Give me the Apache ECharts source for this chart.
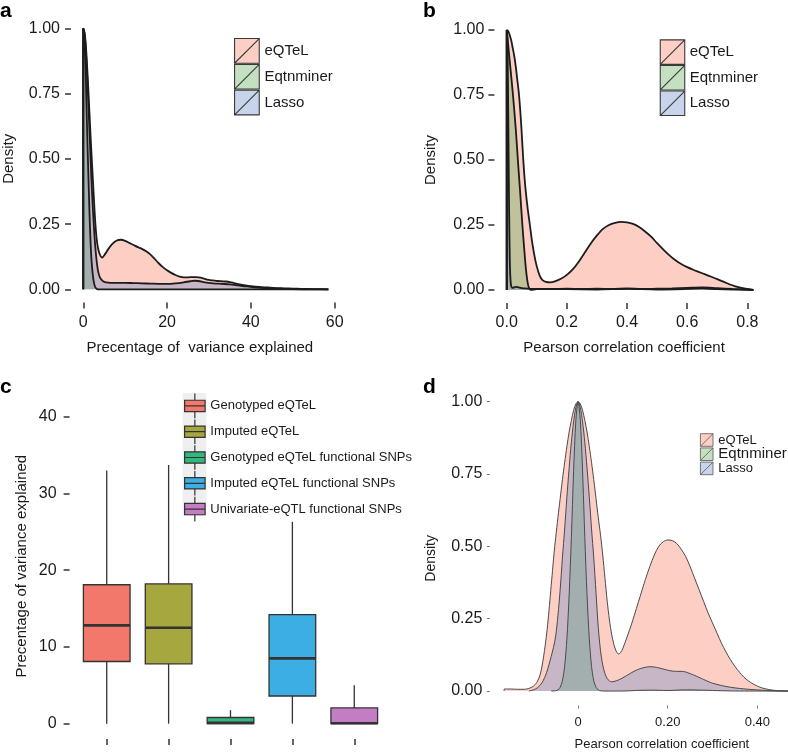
<!DOCTYPE html>
<html><head><meta charset="utf-8">
<script src="https://cdn.jsdelivr.net/npm/echarts@6/dist/echarts.min.js"></script>
<style>html,body{margin:0;padding:0;background:#fff}#chart{width:788px;height:752px}</style>
</head><body><div id="chart"></div>
<script>
// ---------- DATA ----------
const methods = ['eQTeL', 'Eqtnminer', 'Lasso'];
const densityTicks = [0, 0.25, 0.5, 0.75, 1];
const aTicksX = [0, 20, 40, 60];
const bTicksX = [0, 0.2, 0.4, 0.6, 0.8];
const cTicksY = [0, 10, 20, 30, 40];
const dTicksX = [0, 0.2, 0.4];

// Panel a: percentage of variance explained
const aEqtel = [[0,0],[0,1.0],[0.3,0.985],[0.6,0.94],[0.9,0.86],[1.2,0.77],[1.5,0.67],[1.8,0.57],[2.1,0.48],[2.5,0.36],[2.9,0.25],[3.3,0.18],[3.8,0.14],[4.5,0.122],[5.2,0.135],[6,0.155],[7,0.175],[8,0.187],[9,0.19],[10,0.186],[11,0.178],[12,0.17],[13,0.162],[14,0.155],[15,0.146],[16,0.134],[17,0.118],[18,0.1],[19,0.085],[20,0.073],[21,0.063],[22,0.055],[23,0.049],[24,0.046],[25,0.046],[26,0.047],[27,0.047],[28,0.045],[29,0.04],[30,0.036],[31,0.034],[32,0.032],[33,0.031],[34,0.03],[35,0.028],[36,0.024],[37,0.02],[38,0.017],[39,0.014],[40,0.012],[42,0.009],[44,0.007],[46,0.005],[48,0.004],[50,0.003],[52,0.002],[55,0.001],[58.5,0]];
const aEqtn = [[0,0],[0,1.0],[0.25,0.97],[0.5,0.88],[0.75,0.72],[1.0,0.56],[1.2,0.45],[1.4,0.34],[1.6,0.24],[1.8,0.16],[2.0,0.105],[2.2,0.068],[2.4,0.04],[2.6,0.022],[2.8,0.011],[3.0,0.005],[3.3,0.001],[3.6,0],[58.5,0]];
const aLasso = [[0,0],[0,1.0],[0.3,0.98],[0.6,0.92],[0.9,0.83],[1.2,0.72],[1.5,0.6],[1.8,0.48],[2.1,0.37],[2.4,0.28],[2.7,0.2],[3.0,0.14],[3.3,0.095],[3.6,0.065],[4,0.045],[4.5,0.034],[5,0.029],[6,0.026],[7,0.025],[8,0.025],[10,0.025],[12,0.024],[14,0.023],[16,0.022],[18,0.021],[20,0.021],[22,0.023],[24,0.027],[25.5,0.031],[26.5,0.033],[27.5,0.032],[29,0.027],[31,0.023],[33,0.021],[35,0.019],[37,0.015],[39,0.011],[41,0.008],[43,0.005],[46,0.003],[50,0.001],[54,0],[58.5,0]];

// Panel b: Pearson correlation coefficient
const bEqtel = [[0,0],[0,1.0],[0.005,0.995],[0.01,0.98],[0.015,0.96],[0.02,0.93],[0.025,0.9],[0.03,0.86],[0.035,0.81],[0.04,0.76],[0.045,0.69],[0.05,0.6],[0.055,0.5],[0.06,0.42],[0.065,0.36],[0.07,0.31],[0.077,0.25],[0.085,0.18],[0.095,0.115],[0.105,0.07],[0.113,0.047],[0.12,0.037],[0.13,0.031],[0.145,0.029],[0.16,0.033],[0.18,0.043],[0.2,0.058],[0.22,0.08],[0.24,0.11],[0.26,0.145],[0.28,0.18],[0.3,0.21],[0.32,0.235],[0.34,0.25],[0.36,0.258],[0.38,0.262],[0.4,0.26],[0.42,0.254],[0.44,0.242],[0.46,0.225],[0.48,0.205],[0.5,0.18],[0.52,0.156],[0.54,0.134],[0.56,0.115],[0.58,0.1],[0.6,0.088],[0.62,0.078],[0.64,0.069],[0.66,0.06],[0.68,0.051],[0.7,0.042],[0.72,0.032],[0.74,0.022],[0.76,0.014],[0.78,0.008],[0.8,0.004],[0.82,0]];
const bEqtn = [[0,0],[0,1.0],[0.01,0.88],[0.02,0.76],[0.03,0.62],[0.037,0.5],[0.045,0.37],[0.052,0.25],[0.058,0.16],[0.063,0.09],[0.068,0.04],[0.072,0.015],[0.076,0.004],[0.08,0.001],[0.1,0.003],[0.2,0.003],[0.3,0.002],[0.4,0.004],[0.5,0.002],[0.6,0.004],[0.65,0.006],[0.7,0.003],[0.8,0.001],[0.82,0]];
const bLasso = [[0,0],[0,1.0],[0.002,0.97],[0.004,0.8],[0.006,0.55],[0.008,0.3],[0.01,0.13],[0.012,0.05],[0.015,0.015],[0.02,0.008],[0.03,0.012],[0.04,0.01],[0.06,0.006],[0.1,0.004],[0.15,0.004],[0.2,0.005],[0.25,0.004],[0.3,0.005],[0.35,0.004],[0.4,0.006],[0.45,0.004],[0.5,0.005],[0.55,0.006],[0.6,0.008],[0.65,0.01],[0.7,0.007],[0.75,0.004],[0.8,0.002],[0.82,0]];

// Panel c: box plot statistics (percentage of variance explained)
const boxNames = ['Genotyped eQTeL', 'Imputed eQTeL', 'Genotyped eQTeL functional SNPs', 'Imputed eQTeL functional SNPs', 'Univariate-eQTL functional SNPs'];
const boxMin = [0, 0, 0, 0, 0];
const boxQ1 = [8.1, 7.8, 0, 3.6, 0];
const boxMedian = [12.8, 12.5, 0.1, 8.5, 0.05];
const boxQ3 = [18.1, 18.2, 0.8, 14.2, 2.05];
const boxMax = [33.0, 33.7, 1.75, 26.3, 5.0];

// Panel d: Pearson correlation coefficient
const dEqtel = [[-0.165,0],[-0.165,0.007],[-0.15,0.007],[-0.135,0.006],[-0.12,0.006],[-0.11,0.009],[-0.1,0.016],[-0.092,0.03],[-0.085,0.055],[-0.08,0.09],[-0.075,0.14],[-0.07,0.2],[-0.066,0.26],[-0.062,0.33],[-0.058,0.4],[-0.054,0.47],[-0.05,0.53],[-0.045,0.6],[-0.04,0.665],[-0.035,0.73],[-0.03,0.79],[-0.025,0.845],[-0.02,0.895],[-0.015,0.935],[-0.01,0.97],[-0.005,0.992],[0,1.0],[0.005,0.992],[0.01,0.97],[0.015,0.935],[0.02,0.895],[0.025,0.845],[0.03,0.79],[0.035,0.73],[0.04,0.665],[0.045,0.6],[0.05,0.54],[0.055,0.47],[0.06,0.39],[0.065,0.31],[0.07,0.245],[0.075,0.195],[0.08,0.16],[0.085,0.138],[0.09,0.128],[0.095,0.133],[0.1,0.148],[0.11,0.19],[0.12,0.235],[0.13,0.285],[0.14,0.335],[0.15,0.385],[0.16,0.43],[0.17,0.47],[0.18,0.5],[0.19,0.516],[0.2,0.522],[0.21,0.52],[0.22,0.51],[0.23,0.49],[0.24,0.465],[0.25,0.43],[0.26,0.39],[0.27,0.35],[0.28,0.31],[0.29,0.27],[0.3,0.235],[0.31,0.2],[0.32,0.165],[0.33,0.135],[0.34,0.108],[0.35,0.085],[0.36,0.065],[0.37,0.048],[0.38,0.035],[0.39,0.025],[0.4,0.017],[0.41,0.011],[0.42,0.007],[0.43,0.004],[0.44,0.002],[0.45,0.001],[0.47,0],[0.54,0]];
const dEqtn = [[-0.06,0],[-0.05,0.001],[-0.045,0.004],[-0.04,0.013],[-0.035,0.035],[-0.03,0.085],[-0.025,0.18],[-0.02,0.33],[-0.015,0.53],[-0.01,0.76],[-0.005,0.935],[0,1.0],[0.005,0.935],[0.01,0.76],[0.015,0.53],[0.02,0.33],[0.025,0.18],[0.03,0.085],[0.035,0.035],[0.04,0.013],[0.045,0.004],[0.05,0.001],[0.06,0],[0.1,0],[0.13,0.002],[0.16,0.003],[0.2,0.002],[0.24,0.004],[0.28,0.003],[0.32,0.001],[0.36,0],[0.54,0]];
const dLasso = [[-0.11,0],[-0.1,0.004],[-0.09,0.012],[-0.08,0.03],[-0.07,0.065],[-0.06,0.12],[-0.055,0.15],[-0.05,0.19],[-0.045,0.26],[-0.04,0.35],[-0.035,0.46],[-0.03,0.56],[-0.025,0.67],[-0.02,0.77],[-0.015,0.86],[-0.01,0.93],[-0.005,0.98],[0,1.0],[0.005,0.98],[0.01,0.93],[0.015,0.86],[0.02,0.77],[0.025,0.67],[0.03,0.56],[0.035,0.46],[0.04,0.34],[0.045,0.22],[0.05,0.14],[0.055,0.09],[0.06,0.06],[0.065,0.043],[0.07,0.035],[0.075,0.032],[0.08,0.033],[0.09,0.038],[0.1,0.046],[0.11,0.055],[0.12,0.064],[0.13,0.072],[0.14,0.078],[0.15,0.082],[0.16,0.084],[0.17,0.083],[0.18,0.08],[0.19,0.076],[0.2,0.072],[0.21,0.069],[0.22,0.068],[0.23,0.068],[0.24,0.066],[0.25,0.06],[0.26,0.054],[0.27,0.047],[0.28,0.04],[0.29,0.033],[0.3,0.027],[0.32,0.019],[0.34,0.013],[0.36,0.009],[0.38,0.006],[0.4,0.004],[0.42,0.002],[0.45,0],[0.54,0]];

// ---------- STYLE ----------
const FONT = 'Liberation Sans, Arial, Helvetica, sans-serif';
const TXT = '#1a1a1a';
const methodFill = {
  'eQTeL': 'rgba(247,132,108,0.4)',
  'Eqtnminer': 'rgba(105,178,98,0.4)',
  'Lasso': 'rgba(118,148,203,0.4)'
};
const boxColors = ['#F2786C', '#A7A73F', '#34B77E', '#3CAEE4', '#C47DC2'];

const chart = echarts.init(document.getElementById('chart'), null, { renderer: 'canvas' });

function valAxis(gi, min, max, ticks, fmt, o) {
  return {
    type: 'value', gridIndex: gi, min: min, max: max,
    axisLine: { show: false, onZero: false }, splitLine: { show: false },
    axisTick: { show: true, customValues: ticks, length: o.tickLen, lineStyle: { color: o.tickColor || '#333', width: o.tickWidth || 1.5 } },
    axisLabel: { show: o.showLabel !== false, customValues: ticks, formatter: fmt, margin: o.margin, fontSize: o.fontSize, color: TXT, fontFamily: FONT },
    name: o.name || '', nameLocation: 'middle', nameGap: o.nameGap || 0,
    nameRotate: o.nameRotate,
    nameTextStyle: { fontSize: o.nameSize || 15, color: TXT, fontFamily: FONT, padding: o.namePad || 0 }
  };
}

const fmt2 = v => v.toFixed(2);
const fmt1 = v => v.toFixed(1);
const fmt0 = v => String(v);
const fmtD = v => (v === 0 ? '0' : v.toFixed(2));

const grids = [
  { left: 71, top: 15.3, width: 269.6, height: 287.1 },
  { left: 494.4, top: 17, width: 271.3, height: 286 },
  { left: 69.6, top: 401.3, width: 321.8, height: 337.7 },
  { left: 489.8, top: 387.2, width: 344.2, height: 318.3 }
].map(g => Object.assign({ containLabel: false, outerBoundsMode: 'none' }, g));

const xAxes = [
  valAxis(0, -2.925, 61.425, aTicksX, fmt0, { tickLen: 6, margin: 12, fontSize: 16, name: 'Precentage of  variance explained', nameGap: 38, namePad: [0, 12, 0, 0] }),
  valAxis(1, -0.041, 0.861, bTicksX, fmt1, { tickLen: 6, margin: 11.5, fontSize: 16, name: 'Pearson correlation coefficient', nameGap: 37, namePad: [0, 12, 0, 0] }),
  valAxis(2, 0.4, 5.6, [1, 2, 3, 4, 5], fmt0, { tickLen: 6, margin: 10, fontSize: 16, showLabel: false }),
  valAxis(3, -0.197, 0.571, dTicksX, fmtD, { tickLen: 3, tickWidth: 1, tickColor: '#777', margin: 10.5, fontSize: 13, name: 'Pearson correlation coefficient', nameGap: 32, nameSize: 13 })
];
const yAxes = [
  valAxis(0, -0.05, 1.05, densityTicks, fmt2, { tickLen: 6, margin: 11, fontSize: 16, name: 'Density', nameGap: 55, nameRotate: 90 }),
  valAxis(1, -0.05, 1.05, densityTicks, fmt2, { tickLen: 6, margin: 10, fontSize: 16, name: 'Density', nameGap: 56, nameRotate: 90 }),
  valAxis(2, -2, 42, cTicksY, fmt0, { tickLen: 6, margin: 13, fontSize: 16, name: 'Precentage of variance explained', nameGap: 40, nameRotate: 90, namePad: [0, 0, 0, 8] }),
  valAxis(3, -0.05, 1.05, densityTicks, fmt2, { tickLen: 3, tickWidth: 1, tickColor: '#777', margin: 7.5, fontSize: 16, name: 'Density', nameGap: 52, nameRotate: 90, nameSize: 14, namePad: [0, 24, 0, 0] })
];

function densitySeries(name, data, gi, lineColor, lineWidth) {
  return {
    type: 'line', name: name, xAxisIndex: gi, yAxisIndex: gi, data: data,
    symbol: 'none', showSymbol: false, smooth: 0.3, silent: true,
    lineStyle: { color: lineColor, width: lineWidth },
    itemStyle: { color: methodFill[name] },
    areaStyle: { color: methodFill[name], opacity: 1 }
  };
}

const series = [];
[[aEqtel, aEqtn, aLasso], [bEqtel, bEqtn, bLasso]].forEach((sets, gi) => {
  sets.forEach((d, k) => series.push(densitySeries(methods[k], d, gi, '#1c1c1c', 1.8)));
});
[dEqtel, dEqtn, dLasso].forEach((d, k) => series.push(densitySeries(methods[k], d, 3, '#4a4a4a', 1)));

function boxRender(params, api) {
  const x = api.value(0);
  const lo = api.coord([x, api.value(1)]);
  const q1 = api.coord([x, api.value(2)]);
  const md = api.coord([x, api.value(3)]);
  const q3 = api.coord([x, api.value(4)]);
  const hi = api.coord([x, api.value(5)]);
  const hw = api.size([0.754, 0])[0] / 2;
  const stroke = '#333';
  return {
    type: 'group',
    children: [
      { type: 'line', shape: { x1: lo[0], y1: lo[1], x2: q1[0], y2: q1[1] }, style: { stroke: stroke, lineWidth: 1.3 } },
      { type: 'line', shape: { x1: q3[0], y1: q3[1], x2: hi[0], y2: hi[1] }, style: { stroke: stroke, lineWidth: 1.3 } },
      { type: 'rect', shape: { x: q3[0] - hw, y: q3[1], width: hw * 2, height: q1[1] - q3[1] }, style: { fill: api.visual('color'), stroke: stroke, lineWidth: 1.3 } },
      { type: 'line', shape: { x1: md[0] - hw, y1: md[1], x2: md[0] + hw, y2: md[1] }, style: { stroke: stroke, lineWidth: 2.6 } }
    ]
  };
}
boxNames.forEach((name, i) => {
  series.push({
    type: 'custom', name: name, xAxisIndex: 2, yAxisIndex: 2, silent: true,
    itemStyle: { color: boxColors[i] },
    encode: { x: 0, y: [1, 2, 3, 4, 5] },
    data: [[i + 1, boxMin[i], boxQ1[i], boxMedian[i], boxQ3[i], boxMax[i]]],
    renderItem: boxRender
  });
});

const keyIcon = 'path://M0,0L24,0L24,24L0,24Z M0,24L24,0';
const boxIcon = 'path://M10,0L10,6.5 M0,6.5L20,6.5L20,17.5L0,17.5Z M0,12L20,12 M10,17.5L10,24';

function methodLegend(left, top, w, h, sizes, border) {
  return {
    orient: 'vertical', left: left, top: top, itemGap: 0, padding: 0,
    itemWidth: w, itemHeight: h, icon: keyIcon, selectedMode: false,
    textStyle: { color: TXT, fontFamily: FONT, fontSize: 15, lineHeight: Math.min(h, 16) },
    data: methods.map((m, k) => ({
      name: m,
      itemStyle: { color: methodFill[m], borderColor: border.c, borderWidth: border.w },
      textStyle: { fontSize: sizes[k] }
    }))
  };
}

const legends = [
  methodLegend(234, 38, 25, 24.7, [15, 15, 15], { c: '#3a3a3a', w: 1.1 }),
  methodLegend(659.7, 39.3, 24.5, 24.7, [15, 15, 15], { c: '#3a3a3a', w: 1.1 }),
  {
    orient: 'vertical', left: 184, top: 393, itemGap: 0, padding: 0,
    itemWidth: 21, itemHeight: 24.6, icon: boxIcon, selectedMode: false,
    textStyle: { color: TXT, fontFamily: FONT, fontSize: 13 },
    data: boxNames.map((n, i) => ({ name: n, itemStyle: { color: boxColors[i], borderColor: '#333', borderWidth: 1.2 } }))
  },
  methodLegend(700, 433.3, 13.3, 12.6, [13, 15, 13], { c: '#555', w: 0.8 })
];

const panelLetter = (t, x, y) => ({
  type: 'text', left: x, top: y, silent: true,
  style: { text: t, font: 'bold 21px ' + FONT, fill: '#000' }
});

chart.setOption({
  animation: false,
  backgroundColor: '#fff',
  grid: grids,
  xAxis: xAxes,
  yAxis: yAxes,
  legend: legends,
  series: series,
  graphic: [
    { type: 'rect', left: 182.7, top: 393, silent: true, z: -1, shape: { width: 23.6, height: 123 }, style: { fill: '#EFEFEF' } },
    panelLetter('a', 0, 1),
    panelLetter('b', 423, 1),
    panelLetter('c', 0, 377),
    panelLetter('d', 423, 377)
  ]
});
</script></body></html>
